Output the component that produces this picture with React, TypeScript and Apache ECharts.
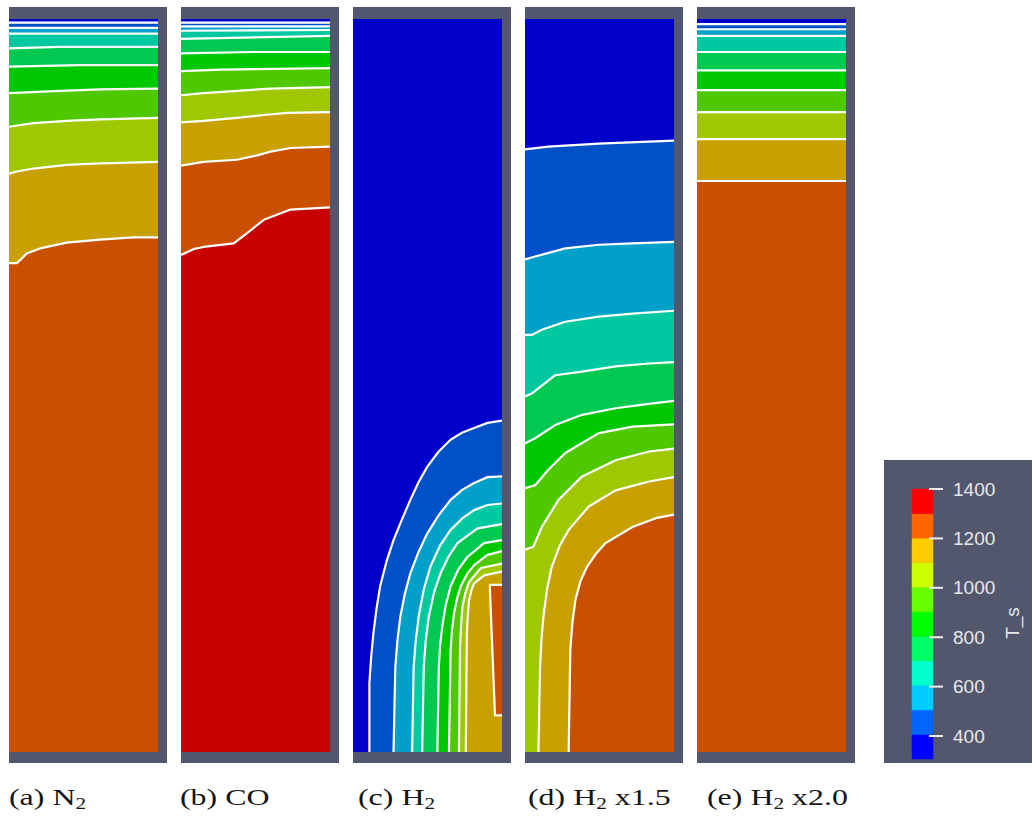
import React, { useEffect, useRef } from "react";
import * as echarts from "echarts";

type Pt = [number, number];

// Isotherm coordinates: r = normalised radial position (0 left wall, 1 right wall),
// z = normalised height (0 bottom, 1 top). Each isotherm separates band k (cold side)
// from band k + 1 (hot side).

const CASE_LABELS: [string, string, string][] = [
  ["(a) N", "2", ""],
  ["(b) CO", "", ""],
  ["(c) H", "2", ""],
  ["(d) H", "2", " x1.5"],
  ["(e) H", "2", " x2.0"],
];

// Surface temperature scale T_s
const TS_MIN = 307;
const TS_MAX = 1400;
const TS_TICKS = [400, 600, 800, 1000, 1200, 1400];
const TS_COLORS = [
  "#0000ff", "#0066ff", "#00ccff", "#00ffcc", "#00ff66", "#00ff00",
  "#66ff00", "#ccff00", "#ffcc00", "#ff6600", "#ff0000",
];

const ISO_N2: Pt[][] = [
  [[0, 0.995], [1, 0.995]],
  [[0, 0.988], [1, 0.988]],
  [[0, 0.98], [1, 0.98]],
  [[0, 0.96], [0.336, 0.962], [1, 0.962]],
  [[0, 0.935], [0.477, 0.937], [1, 0.937]],
  [[0, 0.899], [0.342, 0.902], [0.611, 0.904], [1, 0.905]],
  [[0, 0.853], [0.163, 0.858], [0.387, 0.861], [0.611, 0.863], [1, 0.865]],
  [[0, 0.789], [0.052, 0.792], [0.163, 0.796], [0.387, 0.801], [0.611, 0.803], [1, 0.805]],
  [[0, 0.667], [0.052, 0.667], [0.074, 0.671], [0.119, 0.68], [0.208, 0.687], [0.387, 0.695], [0.611, 0.699], [0.832, 0.702], [1, 0.702]],
];

const ISO_CO: Pt[][] = [
  [[0, 0.995], [1, 0.995]],
  [[0, 0.99], [1, 0.99]],
  [[0, 0.984], [1, 0.985]],
  [[0, 0.973], [1, 0.977]],
  [[0, 0.953], [0.489, 0.955], [1, 0.955]],
  [[0, 0.929], [0.264, 0.931], [1, 0.933]],
  [[0, 0.896], [0.151, 0.899], [0.376, 0.902], [0.601, 0.905], [1, 0.907]],
  [[0, 0.859], [0.151, 0.861], [0.376, 0.865], [0.556, 0.869], [0.714, 0.872], [1, 0.873]],
  [[0, 0.8], [0.151, 0.805], [0.376, 0.808], [0.511, 0.814], [0.601, 0.819], [0.736, 0.824], [1, 0.826]],
  [[0, 0.678], [0.083, 0.686], [0.151, 0.689], [0.354, 0.694], [0.444, 0.708], [0.556, 0.726], [0.736, 0.74], [1, 0.743]],
];

const ISO_H2: Pt[][] = [
  [[0.11, 0], [0.11, 0.094], [0.122, 0.13], [0.137, 0.162], [0.158, 0.196], [0.182, 0.226], [0.225, 0.26], [0.272, 0.289], [0.33, 0.318], [0.385, 0.344], [0.44, 0.368], [0.498, 0.389], [0.575, 0.41], [0.655, 0.426], [0.735, 0.436], [0.813, 0.442], [0.903, 0.449], [1, 0.452]],
  [[0.272, 0], [0.284, 0.116], [0.298, 0.152], [0.318, 0.185], [0.348, 0.216], [0.385, 0.244], [0.44, 0.273], [0.498, 0.298], [0.575, 0.323], [0.655, 0.344], [0.735, 0.358], [0.813, 0.367], [0.903, 0.375], [1, 0.376]],
  [[0.397, 0], [0.407, 0.116], [0.421, 0.152], [0.441, 0.185], [0.475, 0.222], [0.52, 0.253], [0.585, 0.282], [0.655, 0.303], [0.735, 0.319], [0.813, 0.33], [0.903, 0.337], [1, 0.339]],
  [[0.464, 0], [0.475, 0.116], [0.488, 0.152], [0.509, 0.185], [0.543, 0.217], [0.588, 0.244], [0.64, 0.266], [0.701, 0.285], [0.836, 0.305], [1, 0.311]],
  [[0.566, 0], [0.576, 0.116], [0.585, 0.146], [0.599, 0.171], [0.622, 0.2], [0.655, 0.226], [0.707, 0.249], [0.768, 0.266], [0.88, 0.285], [1, 0.289]],
  [[0.644, 0], [0.655, 0.139], [0.664, 0.166], [0.678, 0.189], [0.698, 0.209], [0.723, 0.226], [0.766, 0.243], [0.813, 0.255], [0.903, 0.269], [1, 0.274]],
  [[0.711, 0], [0.718, 0.139], [0.725, 0.172], [0.734, 0.198], [0.754, 0.217], [0.779, 0.232], [0.858, 0.251], [1, 0.257]],
  [[0.757, 0], [0.764, 0.162], [0.771, 0.188], [0.779, 0.207], [0.795, 0.221], [0.813, 0.23], [0.88, 0.241], [1, 0.246]],
  [[1, 0.228], [0.919, 0.228], [0.919, 0.221], [0.953, 0.05], [1, 0.05]],
];

const ISO_H2_X15: Pt[][] = [
  [[0, 0.822], [0.157, 0.826], [0.495, 0.83], [1, 0.834]],
  [[0, 0.672], [0.068, 0.676], [0.27, 0.687], [0.495, 0.692], [0.721, 0.694], [1, 0.696]],
  [[0, 0.569], [0.045, 0.569], [0.113, 0.576], [0.27, 0.587], [0.495, 0.594], [0.721, 0.598], [1, 0.602]],
  [[0, 0.485], [0.045, 0.489], [0.203, 0.514], [0.383, 0.519], [0.608, 0.526], [0.833, 0.53], [1, 0.532]],
  [[0, 0.421], [0.068, 0.428], [0.203, 0.446], [0.383, 0.46], [0.608, 0.469], [0.831, 0.475], [1, 0.479]],
  [[0, 0.36], [0.068, 0.364], [0.157, 0.385], [0.27, 0.408], [0.495, 0.435], [0.721, 0.444], [1, 0.447]],
  [[0, 0.276], [0.056, 0.28], [0.113, 0.307], [0.225, 0.344], [0.383, 0.376], [0.608, 0.398], [0.833, 0.41], [1, 0.414]],
  [[0.09, 0], [0.101, 0.116], [0.11, 0.152], [0.124, 0.185], [0.148, 0.222], [0.18, 0.253], [0.232, 0.281], [0.293, 0.303], [0.428, 0.335], [0.608, 0.357], [0.833, 0.369], [1, 0.375]],
  [[0.293, 0], [0.304, 0.139], [0.318, 0.176], [0.338, 0.207], [0.372, 0.233], [0.417, 0.253], [0.475, 0.27], [0.541, 0.285], [0.721, 0.307], [0.878, 0.319], [1, 0.324]],
];

const ISO_H2_X20: Pt[][] = [
  [[0, 0.993], [1, 0.993]],
  [[0, 0.986], [1, 0.986]],
  [[0, 0.977], [1, 0.977]],
  [[0, 0.955], [1, 0.955]],
  [[0, 0.93], [1, 0.93]],
  [[0, 0.903], [1, 0.903]],
  [[0, 0.873], [1, 0.873]],
  [[0, 0.836], [1, 0.836]],
  [[0, 0.779], [1, 0.779]],
];

const CASES: Pt[][][] = [ISO_N2, ISO_CO, ISO_H2, ISO_H2_X15, ISO_H2_X20];

// Layout (pixels)
const PANEL_LEFT = [9, 181, 353, 525, 697];
const LABEL_X = [9, 180, 358, 528, 707];
const PANEL_TOP = 19;
const PANEL_W = 149;
const PANEL_H = 733;
const FRAME_COLOR = "#52576e";
const SHADE = 0.784; // lit surface is darker than the legend colours

function shade(hex: string, f: number): string {
  const n = parseInt(hex.slice(1), 16);
  const r = Math.round(((n >> 16) & 255) * f);
  const g = Math.round(((n >> 8) & 255) * f);
  const b = Math.round((n & 255) * f);
  return `rgb(${r},${g},${b})`;
}

// Region on the hot side of an isotherm, closed along the panel walls.
function hotRegion(line: Pt[]): Pt[] {
  const first = line[0];
  if (first[0] === 0) return [...line, [1, 0], [0, 0]];
  if (first[1] === 0) return [...line, [1, 0]];
  return line.slice();
}

function buildOption() {
  const grid: any[] = [];
  const xAxis: any[] = [];
  const yAxis: any[] = [];
  const series: any[] = [];

  CASES.forEach((iso, i) => {
    grid.push({ left: PANEL_LEFT[i], top: PANEL_TOP, width: PANEL_W, height: PANEL_H, show: false });
    xAxis.push({ gridIndex: i, type: "value", min: 0, max: 1, show: false });
    yAxis.push({ gridIndex: i, type: "value", min: 0, max: 1, show: false });

    const regions: Pt[][] = [
      [[0, 0], [1, 0], [1, 1], [0, 1]],
      ...iso.map(hotRegion),
    ];

    series.push({
      type: "custom",
      xAxisIndex: i,
      yAxisIndex: i,
      silent: true,
      clip: true,
      z: 2,
      data: regions.map((_, k) => [k]),
      renderItem: (params: any, api: any) => {
        const k = params.dataIndex;
        return {
          type: "polygon",
          shape: { points: regions[k].map((p) => api.coord(p)) },
          style: { fill: shade(TS_COLORS[k], SHADE), stroke: shade(TS_COLORS[k], SHADE), lineWidth: 0.6 },
        };
      },
    });

    series.push({
      type: "custom",
      xAxisIndex: i,
      yAxisIndex: i,
      silent: true,
      clip: true,
      z: 3,
      data: iso.map((_, k) => [k]),
      renderItem: (params: any, api: any) => ({
        type: "polyline",
        shape: { points: iso[params.dataIndex].map((p) => api.coord(p)) },
        style: { fill: null, stroke: "#ffffff", lineWidth: 2.2, lineJoin: "round" },
      }),
    });
  });

  // colour legend
  const cb = CASES.length;
  const step = (TS_MAX - TS_MIN) / TS_COLORS.length;
  grid.push({ left: 912, top: 489, width: 21, height: 270, show: false });
  xAxis.push({ gridIndex: cb, type: "value", min: 0, max: 1, show: false });
  yAxis.push({
    gridIndex: cb,
    type: "value",
    min: TS_MIN,
    max: TS_MAX,
    position: "right",
    z: 5,
    splitLine: { show: false },
    axisLine: { show: false },
    axisTick: { show: false },
    axisLabel: {
      customValues: TS_TICKS,
      margin: 20,
      color: "#e8e8e8",
      fontSize: 19,
      fontFamily: "Liberation Sans",
      formatter: (v: number) => String(v),
    },
  });
  series.push({
    type: "custom",
    xAxisIndex: cb,
    yAxisIndex: cb,
    silent: true,
    z: 2,
    data: TS_COLORS.map((_, k) => [k]),
    renderItem: (params: any, api: any) => {
      const k = params.dataIndex;
      const lo = TS_MIN + k * step;
      const p0 = api.coord([0, lo]);
      const p1 = api.coord([1, lo + step]);
      return {
        type: "rect",
        shape: { x: p0[0], y: p1[1], width: p1[0] - p0[0], height: p0[1] - p1[1] },
        style: { fill: TS_COLORS[k], stroke: TS_COLORS[k], lineWidth: 0.5 },
      };
    },
  });
  // tick marks of the legend, reaching slightly into the bar
  series.push({
    type: "custom",
    xAxisIndex: cb,
    yAxisIndex: cb,
    silent: true,
    clip: false,
    z: 4,
    data: TS_TICKS.map((v) => [1, v]),
    renderItem: (params: any, api: any) => {
      const p = api.coord([api.value(0), api.value(1)]);
      return {
        type: "line",
        shape: { x1: p[0] - 4, y1: p[1], x2: p[0] + 10, y2: p[1] },
        style: { stroke: "#eeeeee", lineWidth: 2 },
      };
    },
  });

  const graphic: any[] = [];
  PANEL_LEFT.forEach((x) => {
    graphic.push({
      type: "rect",
      z: 0,
      silent: true,
      shape: { x, y: 7, width: PANEL_W + 9, height: 756 },
      style: { fill: FRAME_COLOR },
    });
  });
  graphic.push({
    type: "rect",
    z: 0,
    silent: true,
    shape: { x: 884, y: 460, width: 148, height: 303 },
    style: { fill: FRAME_COLOR },
  });
  graphic.push({
    type: "text",
    x: 1012,
    y: 623,
    rotation: Math.PI / 2,
    silent: true,
    style: {
      text: "T_s",
      fill: "#e8e8e8",
      fontSize: 19,
      fontFamily: "Liberation Sans",
      align: "center",
      verticalAlign: "middle",
    },
  });

  CASE_LABELS.forEach(([main, sub, tail], i) => {
    let text = `{m|${main}}`;
    if (sub) text += `{s|${sub}}`;
    if (tail) text += `{m|${tail}}`;
    graphic.push({
      type: "text",
      x: LABEL_X[i],
      y: 797,
      scaleX: 1.33,
      silent: true,
      style: {
        text,
        align: "left",
        verticalAlign: "middle",
        rich: {
          m: { fontSize: 24, fontFamily: "Liberation Serif", fill: "#151515", lineHeight: 28 },
          s: { fontSize: 16, fontFamily: "Liberation Serif", fill: "#151515", lineHeight: 28, verticalAlign: "bottom" },
        },
      },
    });
  });

  return { animation: false, backgroundColor: "#ffffff", grid, xAxis, yAxis, series, graphic };
}

export default function App() {
  const ref = useRef<HTMLDivElement>(null);
  useEffect(() => {
    document.body.style.margin = "0";
    if (!ref.current) return;
    const chart = echarts.init(ref.current, undefined, { renderer: "svg" });
    chart.setOption(buildOption());
    return () => chart.dispose();
  }, []);
  return <div ref={ref} style={{ width: 1032, height: 818 }} />;
}
